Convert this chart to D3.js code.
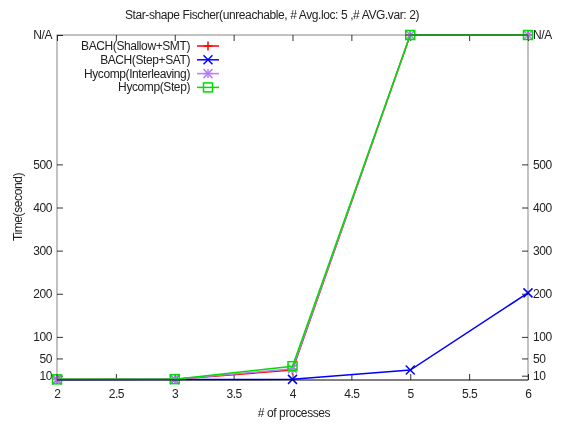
<!DOCTYPE html>
<html>
<head>
<meta charset="utf-8">
<script src="https://cdn.jsdelivr.net/npm/d3@7"></script>
<style>
body{margin:0;background:#fff;}
text{font-family:"Liberation Sans",sans-serif;font-size:12px;fill:#222;letter-spacing:-0.4px;}
</style>
</head>
<body>
<div id="svgtoedit"></div>
<script>
var processes = [2, 3, 4, 5, 6];
var NA = 800; // value used for the N/A row
var bachShallow = [1.5, 2, 23, NA, NA];
var bachStep = [0.5, 1, 1.5, 23, 202];
var hycompInter = [1.5, 2, 26, NA, NA];
var hycompStep = [1.5, 2, 32, NA, NA];
var seriesNames = ["BACH(Shallow+SMT)", "BACH(Step+SAT)", "Hycomp(Interleaving)", "Hycomp(Step)"];
var xTicks = [2, 2.5, 3, 3.5, 4, 4.5, 5, 5.5, 6];
var yTicks = [10, 50, 100, 200, 300, 400, 500, NA];

function init(){
    var w = 563;
    var h = 424;
    var left = 57, right = 528, top = 35, bottom = 380;

    var colors = ["#ff0000", "#0000ff", "#b77ff5", "#00dd00"];
    var markers = ["plus", "cross", "star", "box"];
    var allSeries = [bachShallow, bachStep, hycompInter, hycompStep];

    var xScale = d3.scaleLinear()
                    .domain([2, 6])
                    .range([left, right]);

    var yScale = d3.scaleLinear()
                    .domain([0, NA])
                    .range([bottom, top]);

    var svg = d3.select("#svgtoedit")
            .append("svg")
            .attr("width", w)
            .attr("height", h);

    function yFmt(d){ return d == NA ? "N/A" : d; }

    // axes, ticks pointing inward
    svg.append("g")
        .attr("transform", "translate(0," + bottom + ")")
        .call(d3.axisBottom(xScale).tickValues(xTicks).tickSize(-6).tickPadding(9).tickFormat(d3.format("")));
    svg.append("g")
        .attr("transform", "translate(0," + top + ")")
        .call(d3.axisTop(xScale).tickValues(xTicks).tickSize(-6).tickFormat(""));
    svg.append("g")
        .attr("transform", "translate(" + left + ",0)")
        .call(d3.axisLeft(yScale).tickValues(yTicks).tickSize(-6).tickPadding(5).tickFormat(yFmt));
    svg.append("g")
        .attr("transform", "translate(" + right + ",0)")
        .call(d3.axisRight(yScale).tickValues(yTicks).tickSize(-6).tickPadding(5).tickFormat(yFmt));

    svg.selectAll(".domain").remove();
    svg.selectAll(".tick line").attr("stroke", "#333");
    svg.selectAll(".tick text").attr("font-size", null).attr("font-family", null).attr("fill", "#222");
    svg.selectAll(".tick").attr("font-size", null);
    svg.selectAll("g").attr("font-size", null).attr("font-family", null);

    var line = d3.line()
        .x(function(d, i){ return xScale(processes[i]); })
        .y(function(d){ return yScale(d); });

    function drawMarker(g, type, x, y, color, s){
        if (type == "plus" || type == "star"){
            g.append("line").attr("x1", x - s).attr("x2", x + s).attr("y1", y).attr("y2", y);
            g.append("line").attr("x1", x).attr("x2", x).attr("y1", y - s).attr("y2", y + s);
        }
        if (type == "cross" || type == "star"){
            g.append("line").attr("x1", x - s).attr("x2", x + s).attr("y1", y - s).attr("y2", y + s);
            g.append("line").attr("x1", x - s).attr("x2", x + s).attr("y1", y + s).attr("y2", y - s);
        }
        if (type == "box"){
            g.append("rect").attr("x", x - s).attr("y", y - s).attr("width", 2 * s).attr("height", 2 * s).attr("fill", "none");
        }
        g.attr("stroke", color).attr("stroke-width", 1.5);
    }

    allSeries.forEach(function(series, k){
        svg.append("path")
            .datum(series)
            .attr("d", line)
            .attr("fill", "none")
            .attr("stroke", colors[k])
            .attr("stroke-width", 1.5);
        series.forEach(function(v, i){
            drawMarker(svg.append("g"), markers[k], xScale(processes[i]), yScale(v), colors[k], 4.5);
        });
    });

    // frame drawn over the lines, blended like the original
    svg.append("rect")
        .attr("x", left).attr("y", top)
        .attr("width", right - left).attr("height", bottom - top)
        .attr("fill", "none")
        .attr("stroke", "#999")
        .attr("stroke-width", 1.2)
        .style("mix-blend-mode", "multiply");
    svg.append("line")
        .attr("x1", left).attr("x2", right)
        .attr("y1", bottom).attr("y2", bottom)
        .attr("stroke", "#555")
        .style("mix-blend-mode", "multiply");

    // legend
    var legend = svg.append("g");
    seriesNames.forEach(function(name, k){
        var ly = 46 + k * 13.8;
        legend.append("text")
            .attr("x", 190).attr("y", ly + 4)
            .attr("text-anchor", "end")
            .text(name);
        legend.append("line")
            .attr("x1", 197).attr("x2", 219)
            .attr("y1", ly).attr("y2", ly)
            .attr("stroke", colors[k]).attr("stroke-width", 1.5);
        drawMarker(legend.append("g"), markers[k], 208, ly, colors[k], 4.5);
    });

    svg.append("text")
        .attr("x", 272).attr("y", 19)
        .attr("text-anchor", "middle")
        .text("Star-shape Fischer(unreachable, # Avg.loc: 5 ,# AVG.var: 2)");
    svg.append("text")
        .attr("x", 294).attr("y", 417)
        .attr("text-anchor", "middle")
        .text("# of processes");
    svg.append("text")
        .attr("transform", "rotate(-90)")
        .attr("x", -207).attr("y", 22)
        .attr("text-anchor", "middle")
        .text("Time(second)");
}

window.onload = init;
</script>
</body>
</html>
